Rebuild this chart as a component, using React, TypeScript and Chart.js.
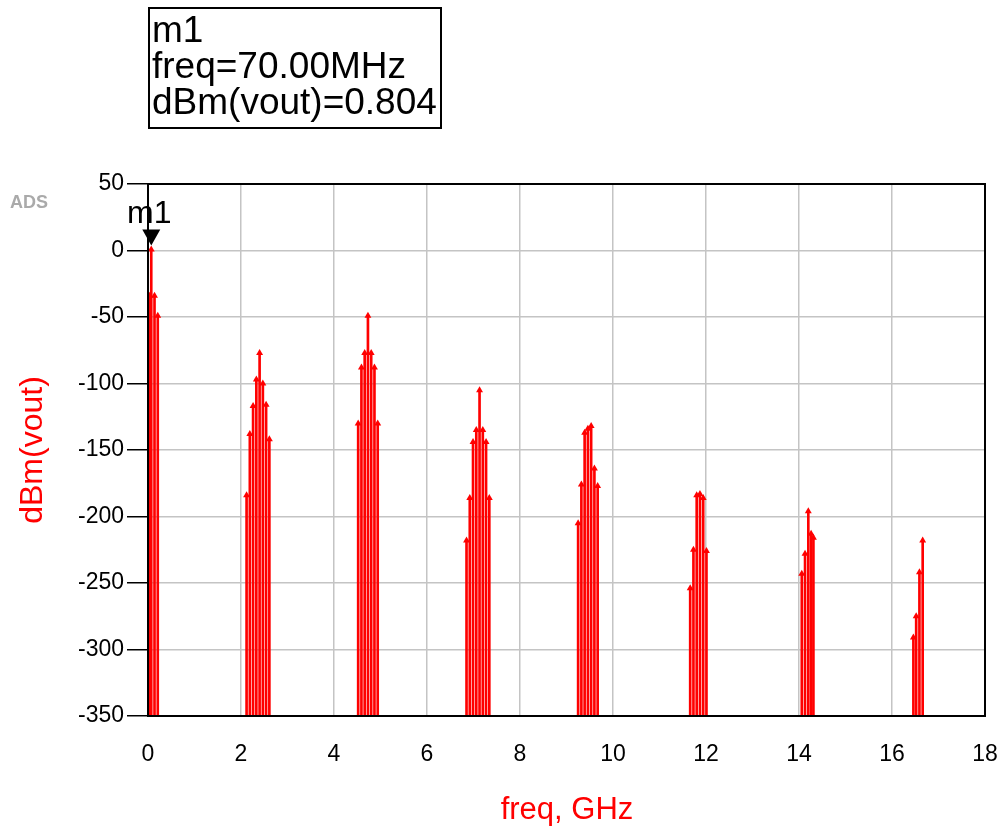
import React, { useEffect, useRef } from "react";
import { Chart, registerables } from "chart.js";

Chart.register(...registerables);

// Spectrum lines: frequency (GHz) and level (dBm)
const freqGHz: number[] = [
  0.0, 0.035, 0.07, 0.14, 0.21,
  2.12, 2.19, 2.26, 2.33, 2.40, 2.47, 2.54, 2.61,
  4.52, 4.59, 4.66, 4.73, 4.80, 4.87, 4.94,
  6.85, 6.92, 6.99, 7.06, 7.13, 7.20, 7.27, 7.34,
  9.25, 9.32, 9.39, 9.46, 9.53, 9.60, 9.67,
  11.66, 11.73, 11.80, 11.87, 11.94, 12.01,
  14.06, 14.13, 14.20, 14.26, 14.31,
  16.46, 16.52, 16.59, 16.66,
];
const dBmVout: number[] = [
  -34, -34, 0.804, -34, -49,
  -184, -138, -117, -97, -77, -100, -116, -142,
  -130, -88, -77, -49, -77, -88, -130,
  -218, -186, -144, -135, -105, -135, -144, -186,
  -205, -176, -137, -134, -132, -164, -177,
  -254, -225, -184, -183, -186, -226,
  -243, -228, -196, -213, -216,
  -291, -275, -242, -218,
];

const xTicks: number[] = [0, 2, 4, 6, 8, 10, 12, 14, 16, 18];
const yTicks: number[] = [50, 0, -50, -100, -150, -200, -250, -300, -350];

const markerName = "m1";
const markerFreqGHz = 0.07;
const markerValue = 0.804;
const markerLines: string[] = ["m1", "freq=70.00MHz", "dBm(vout)=0.804"];

const FONT = "'Liberation Sans', Arial, sans-serif";

export default function App() {
  const ref = useRef<HTMLCanvasElement | null>(null);

  useEffect(() => {
    if (!ref.current) return;
    const yMin = yTicks[yTicks.length - 1];
    const yMax = yTicks[0];

    const frame = {
      id: "frameAndMarker",
      afterDatasetsDraw(chart: any) {
        const { ctx, chartArea, scales } = chart;
        ctx.save();
        ctx.strokeStyle = "#000";
        ctx.lineWidth = 2;
        ctx.strokeRect(chartArea.left, chartArea.top, chartArea.right - chartArea.left, chartArea.bottom - chartArea.top);
        // marker
        const px = scales.x.getPixelForValue(markerFreqGHz);
        const py = scales.y.getPixelForValue(markerValue);
        const tipY = py - 4;
        ctx.fillStyle = "#000";
        ctx.beginPath();
        ctx.moveTo(px, tipY);
        ctx.lineTo(px - 9, tipY - 16);
        ctx.lineTo(px + 9, tipY - 16);
        ctx.closePath();
        ctx.fill();
        ctx.font = `32px ${FONT}`;
        ctx.textAlign = "center";
        ctx.textBaseline = "alphabetic";
        ctx.fillText(markerName, px - 2, tipY - 22);
        ctx.restore();
      },
    };

    const chart = new Chart(ref.current, {
      type: "bar",
      data: {
        datasets: [
          {
            type: "bar",
            data: freqGHz.map((f, i) => ({ x: f, y: [yMin, dBmVout[i]] })) as any,
            backgroundColor: "#ff0000",
            borderWidth: 0,
            barThickness: 2,
          } as any,
          {
            type: "scatter",
            data: freqGHz.map((f, i) => ({ x: f, y: dBmVout[i] })),
            pointStyle: "triangle",
            pointRadius: 4,
            backgroundColor: "#ff0000",
            borderColor: "#ff0000",
            borderWidth: 0,
            showLine: false,
          } as any,
        ],
      },
      options: {
        animation: false,
        responsive: false,
        maintainAspectRatio: false,
        layout: { padding: { left: 0, top: 184, right: 17, bottom: 0 } },
        plugins: { legend: { display: false }, tooltip: { enabled: false } },
        scales: {
          x: {
            type: "linear",
            min: 0,
            max: 18,
            offset: false,
            afterFit(scale: any) {
              scale.height = 115;
              scale.paddingLeft = 0;
              scale.paddingRight = 0;
            },
            afterBuildTicks(scale: any) {
              scale.ticks = xTicks.map((v) => ({ value: v }));
            },
            grid: { color: "#c4c4c4", lineWidth: 1.5, drawTicks: false, offset: false },
            border: { color: "#000", width: 2 },
            ticks: { color: "#000", padding: 25, font: { family: FONT, size: 23 }, maxRotation: 0 },
          },
          y: {
            type: "linear",
            min: yMin,
            max: yMax,
            afterFit(scale: any) {
              scale.width = 148;
              scale.paddingTop = 0;
              scale.paddingBottom = 0;
            },
            afterBuildTicks(scale: any) {
              scale.ticks = yTicks.map((v) => ({ value: v }));
            },
            grid: { color: "#c4c4c4", lineWidth: 1.5, tickColor: "#000", tickLength: 21, drawTicks: true },
            border: { color: "#000", width: 2 },
            ticks: { color: "#000", padding: 3, font: { family: FONT, size: 23 } },
          },
        },
      } as any,
      plugins: [frame],
    });
    return () => chart.destroy();
  }, []);

  return (
    <div style={{ position: "absolute", left: 0, top: 0, width: 1002, height: 831, background: "#fff", fontFamily: FONT }}>
      <canvas ref={ref} width={1002} height={831} style={{ position: "absolute", left: 0, top: 0, width: 1002, height: 831 }} />
      <div
        style={{
          position: "absolute",
          left: 148,
          top: 7,
          width: 288,
          height: 115,
          border: "2px solid #000",
          fontSize: 37,
          lineHeight: "36px",
          color: "#000",
          paddingLeft: 2,
          paddingTop: 3,
          whiteSpace: "nowrap",
        }}
      >
        {markerLines.map((l, i) => (
          <div key={i}>{l}</div>
        ))}
      </div>
      <div style={{ position: "absolute", left: 10, top: 192, fontSize: 18, fontWeight: "bold", color: "#aaaaaa" }}>ADS</div>
      <div
        style={{
          position: "absolute",
          left: 31,
          top: 450,
          transform: "translate(-50%, -50%) rotate(-90deg)",
          fontSize: 32,
          color: "#ff0000",
          whiteSpace: "nowrap",
        }}
      >
        dBm(vout)
      </div>
      <div
        style={{
          position: "absolute",
          left: 567,
          top: 809,
          transform: "translate(-50%, -50%)",
          fontSize: 31,
          color: "#ff0000",
          whiteSpace: "nowrap",
        }}
      >
        freq, GHz
      </div>
    </div>
  );
}
